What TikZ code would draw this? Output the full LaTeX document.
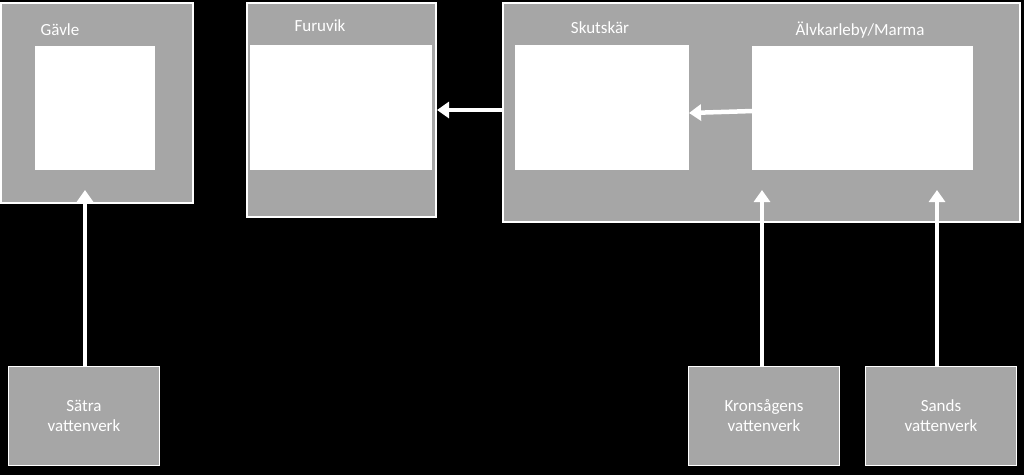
\documentclass[tikz,border=0pt]{standalone}
\usepackage{fontspec}
\setmainfont{Carlito}
\usetikzlibrary{arrows.meta}
\definecolor{gbox}{HTML}{A6A6A6}
\begin{document}
\begin{tikzpicture}[x=1pt,y=-1pt,
  grayb/.style={draw=white,line width=1.5pt,fill=gbox},
  lbl/.style={text=white,font=\fontsize{17}{20}\selectfont,align=center},
  arr/.style={white,line width=4.5pt,-{Triangle[length=12pt,width=16pt]}}]
\useasboundingbox[fill=black] (0,0) rectangle (1024,475);
% Gävle
\draw[grayb] (1,3) rectangle (193,203);
\fill[white] (35,46) rectangle (155,170);
\node[lbl] (gl) at (60,30) {Gävle};
\coordinate (gb) at (85,190);
% Furuvik
\draw[grayb] (247,3) rectangle (436,217);
\fill[white] (250,45) rectangle (432,170);
\node[lbl] (fl) at (320,26) {Furuvik};
\coordinate (fr) at (437,110);
% right
\draw[grayb] (503,3) rectangle (1020,222);
\fill[white] (515,45) rectangle (689,170);
\fill[white] (752,46) rectangle (973,170);
\node[lbl] (sl) at (600,28) {Skutskär};
\node[lbl] (al) at (860,30) {Älvkarleby/Marma};
\coordinate (rl) at (504,110);
\coordinate (sr) at (689,113);
\coordinate (ar) at (753,111);
\coordinate (ab) at (762,190);
\coordinate (sb) at (937,190);
% bottom
\node[grayb,minimum width=151,minimum height=99,inner sep=0,lbl] (s1) at (84,416) {Sätra\\vattenverk};
\node[grayb,minimum width=151,minimum height=99,inner sep=0,lbl] (k1) at (764,416) {Kronsågens\\vattenverk};
\node[grayb,minimum width=151,minimum height=99,inner sep=0,lbl] (d1) at (941,416) {Sands\\vattenverk};
% arrows
\draw[arr] (rl) -- (fr);
\draw[arr] (ar) -- (sr);
\draw[arr] (s1.north -| gb) -- (gb);
\draw[arr] (k1.north -| ab) -- (ab);
\draw[arr] (d1.north -| sb) -- (sb);
\end{tikzpicture}
\end{document}
